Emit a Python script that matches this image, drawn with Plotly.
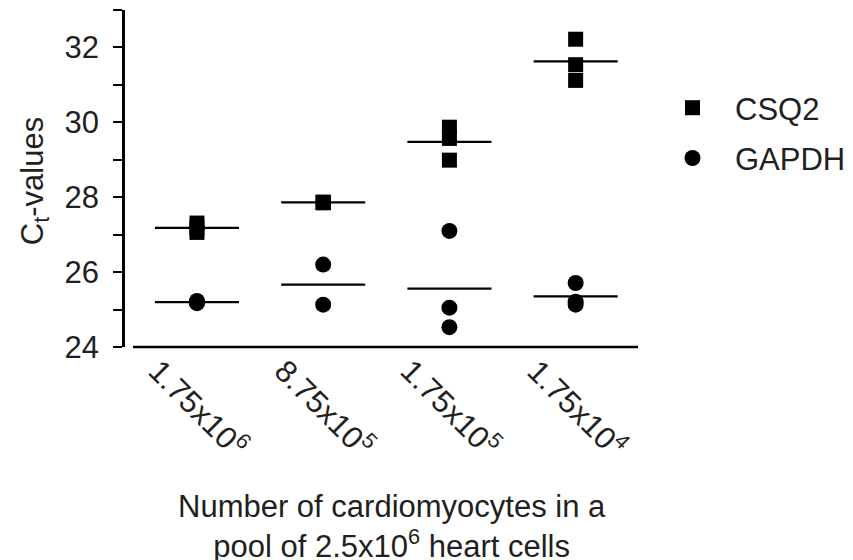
import numpy as np
import plotly.graph_objects as go

# ---- data ----
categories = ["1.75x10<sup>6</sup>", "8.75x10<sup>5</sup>", "1.75x10<sup>5</sup>", "1.75x10<sup>4</sup>"]
csq2 = [
    [27.31, 27.18, 27.06],
    [27.86, 27.85, 27.87],
    [29.87, 29.57, 28.99],
    [32.22, 31.54, 31.12],
]
gapdh = [
    [25.23, 25.19, 25.17],
    [26.20, 25.13],
    [27.10, 25.05, 24.53],
    [25.71, 25.21, 25.13],
]
y_ticks = [24, 25, 26, 27, 28, 29, 30, 31, 32, 33]
y_ticktext = ["24", "", "26", "", "28", "", "30", "", "32", ""]

# ---- styling ----
FONT = "Liberation Sans, Arial, Helvetica, sans-serif"
TXT = "#231f20"
FS = 31
MEAN_HALF = 0.333
pos = list(range(1, len(categories) + 1))

# page has an 8px body margin: lay out in page pixels minus this offset
OFF = 8
W, H = 853 - OFF, 560 - OFF
L, T = 125 - OFF, 10 - OFF
plot_w, plot_h = 513, 336.7
R = W - L - plot_w
B = H - T - plot_h

fig = go.Figure()

def mean_line(groups):
    xs, ys = [], []
    for p, vals in zip(pos, groups):
        m = float(np.mean(vals))
        xs += [p - MEAN_HALF, p + MEAN_HALF, None]
        ys += [m, m, None]
    return xs, ys

for groups in (csq2, gapdh):
    xs, ys = mean_line(groups)
    fig.add_trace(go.Scatter(x=xs, y=ys, mode="lines", line=dict(color="black", width=2.2),
                             showlegend=False, hoverinfo="skip"))

def pts(groups):
    xs, ys = [], []
    for p, vals in zip(pos, groups):
        xs += [p] * len(vals)
        ys += list(vals)
    return xs, ys

x1, y1 = pts(csq2)
fig.add_trace(go.Scatter(x=x1, y=y1, mode="markers", name="CSQ2", legendgroup="a",
                         marker=dict(symbol="square", size=15, color="black", line=dict(width=0))))
x2, y2 = pts(gapdh)
fig.add_trace(go.Scatter(x=x2, y=y2, mode="markers", name="GAPDH", legendgroup="b",
                         marker=dict(symbol="circle", size=16, color="black", line=dict(width=0))))

# x tick labels (rotated, centered on category)
for p, lab in zip(pos, categories):
    fig.add_annotation(x=p, xref="x", y=0, yref="paper", text=lab, showarrow=False,
                       textangle=45, xanchor="center", yanchor="middle", yshift=-60, xshift=2,
                       font=dict(family=FONT, size=FS, color=TXT))

# x axis line (separate from y axis)
fig.add_shape(type="line", xref="paper", yref="paper", x0=8 / plot_w, x1=1, y0=0, y1=0,
              line=dict(color="black", width=2.5))

# axis titles
fig.add_annotation(x=(392 - 125) / plot_w, xref="paper", y=0, yref="paper",
                   text="Number of cardiomyocytes in a<br>pool of 2.5x10<sup>6</sup> heart cells",
                   showarrow=False, xanchor="center", yanchor="middle", yshift=-179,
                   font=dict(family=FONT, size=FS, color=TXT))
fig.add_annotation(x=(35 - 125) / plot_w, xref="paper", y=(346.7 - 181) / plot_h, yref="paper",
                   text="C<sub>t</sub>-values", showarrow=False, textangle=-90,
                   xanchor="center", yanchor="middle",
                   font=dict(family=FONT, size=FS, color=TXT))

fig.update_layout(
    width=W, height=H,
    margin=dict(l=L, r=R, t=T, b=B),
    paper_bgcolor="white", plot_bgcolor="white",
    font=dict(family=FONT, size=FS, color=TXT),
    xaxis=dict(range=[0.43, 4.494], showgrid=False, zeroline=False, showline=False,
               showticklabels=False, ticks=""),
    yaxis=dict(range=[24, 33], tickvals=y_ticks, ticktext=y_ticktext, showgrid=False,
               zeroline=False, showline=True, linecolor="black", linewidth=2.5,
               ticks="outside", ticklen=9, tickwidth=2.2, tickcolor="black",
               ticklabelstandoff=8, tickfont=dict(family=FONT, size=FS, color=TXT)),
    legend=dict(x=(650 - 125) / plot_w, xanchor="left", y=(346.7 - 81) / plot_h, yanchor="top",
                font=dict(family=FONT, size=FS, color=TXT), bgcolor="rgba(0,0,0,0)",
                itemwidth=75, tracegroupgap=7, traceorder="grouped"),
    showlegend=True,
)

fig.write_html("out.html")
